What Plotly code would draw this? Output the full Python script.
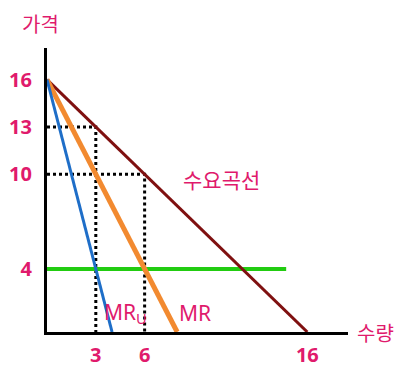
import plotly.graph_objects as go

# Data (economic values)
q_demand = [0, 16]
p_demand = [16, 0]
q_mr = [0, 8]
p_mr = [16, 0]
q_mru = [0, 4]
p_mru = [16, 0]
q_mc = [0, 14.7]
p_mc = [4, 4]
price_ticks = [16, 13, 10, 4]
qty_ticks = [3, 6, 16]
guide_q = [3, 6]
guide_p = [13, 10]

PINK = "#E01A6C"
fig = go.Figure()

# dotted guides
for q, p in zip(guide_q, guide_p):
    fig.add_trace(go.Scatter(x=[0, q, q], y=[p, p, -0.3], mode="lines",
                             line=dict(color="black", width=3, dash="3px,3px"),
                             hoverinfo="skip", showlegend=False, cliponaxis=False))

fig.add_trace(go.Scatter(x=q_mc, y=p_mc, mode="lines",
                         line=dict(color="#22CC11", width=4), showlegend=False))
fig.add_trace(go.Scatter(x=q_demand, y=p_demand, mode="lines",
                         line=dict(color="#7F1010", width=3), showlegend=False))
fig.add_trace(go.Scatter(x=q_mr, y=p_mr, mode="lines",
                         line=dict(color="#F28A30", width=5), showlegend=False))
fig.add_trace(go.Scatter(x=q_mru, y=p_mru, mode="lines",
                         line=dict(color="#1E6EC8", width=3), showlegend=False))

numfont = dict(family="Noto Sans, DejaVu Sans", size=20, color=PINK, weight="bold")
fig.update_xaxes(range=[0, 18.5], showgrid=False, zeroline=False, showline=True,
                 linecolor="black", linewidth=3, tickvals=qty_ticks,
                 ticktext=[str(v) for v in qty_ticks], ticks="", automargin=False,
                 tickfont=numfont, ticklabelstandoff=3)
fig.update_yaxes(range=[0, 18], showgrid=False, zeroline=False, showline=True,
                 linecolor="black", linewidth=3, tickvals=price_ticks,
                 ticktext=[str(v) for v in price_ticks], ticks="", automargin=False,
                 tickfont=numfont, ticklabelstandoff=8)

kfont = dict(family="Noto Sans CJK KR", size=21, color=PINK)
fig.add_annotation(x=0, y=1, xref="paper", yref="paper", text="가격", showarrow=False,
                   xanchor="center", yanchor="middle", xshift=-7, yshift=25,
                   font=dict(family="Noto Sans CJK KR", size=20, color=PINK))
fig.add_annotation(x=1, y=0, xref="paper", yref="paper", text="수량", showarrow=False,
                   xanchor="left", yanchor="middle", xshift=7, yshift=0,
                   font=dict(family="Noto Sans CJK KR", size=20, color=PINK))
fig.add_annotation(x=10.7, y=9.7, text="수요곡선", showarrow=False,
                   xanchor="center", yanchor="middle", font=kfont)
lfont = dict(family="Noto Sans, DejaVu Sans", size=21, color=PINK)
fig.add_annotation(x=3.4, y=1.2, text="MR<sub>U</sub>", showarrow=False,
                   xanchor="left", yanchor="middle", font=lfont)
fig.add_annotation(x=8.0, y=1.2, text="MR", showarrow=False,
                   xanchor="left", yanchor="middle", font=lfont)

# page body has an 8px margin; size the figure so the plot lands on the reference frame
fig.update_layout(width=395, height=359, margin=dict(l=39, r=55, t=40, b=35),
                  plot_bgcolor="white", paper_bgcolor="white")
fig.write_html("out.html")
